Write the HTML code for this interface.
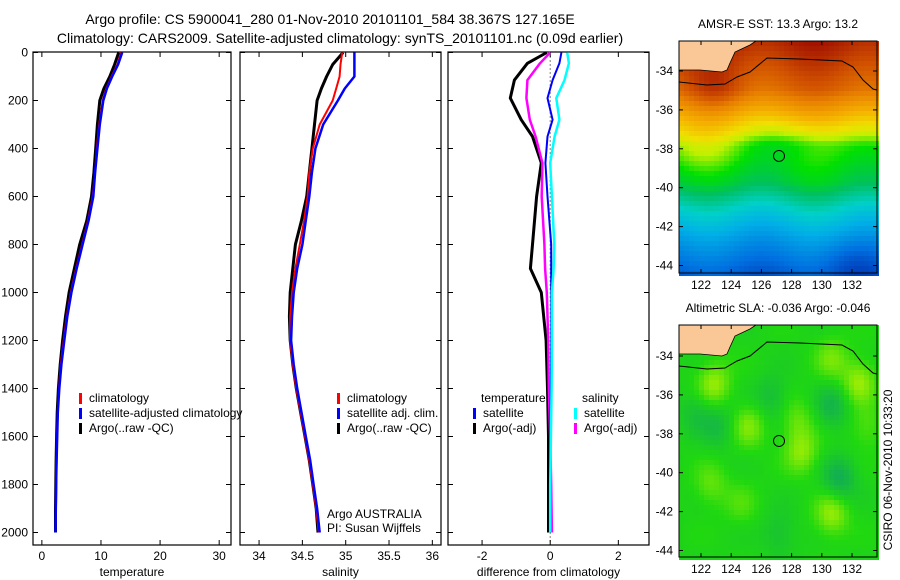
<!DOCTYPE html>
<html><head><meta charset="utf-8"><style>
html,body{margin:0;padding:0;background:#fff;}
svg{display:block;font-family:"Liberation Sans",sans-serif;}
</style></head><body>
<svg id="fig" width="900" height="580" viewBox="0 0 900 580" xmlns="http://www.w3.org/2000/svg">
<text x="330" y="24" font-size="14" text-anchor="middle">Argo profile: CS 5900041_280 01-Nov-2010 20101101_584 38.367S 127.165E</text>
<text x="340" y="43" font-size="14" text-anchor="middle">Climatology: CARS2009. Satellite-adjusted climatology: synTS_20101101.nc (0.09d earlier)</text>
<g id="plots"></g>
<g id="maps"></g>
<text x="0" y="0" font-size="12" text-anchor="middle" transform="translate(892,470) rotate(-90)">CSIRO 06-Nov-2010 10:33:20</text>
</svg>
<script>
// ---- profile data ----
const depthsTS = [0,50,100,150,200,300,400,500,600,700,800,900,1000,1100,1200,1300,1400,1500,1600,1700,1800,1900,2000];
const tempArgo = [13.0,12.3,11.5,10.5,9.8,9.4,9.1,8.8,8.4,7.6,6.4,5.5,4.6,4.0,3.5,3.1,2.8,2.6,2.5,2.4,2.35,2.3,2.3];
const tempClim = [13.4,12.8,11.8,10.9,10.3,9.7,9.3,9.0,8.6,7.8,6.8,5.8,4.9,4.2,3.7,3.2,2.9,2.7,2.55,2.45,2.4,2.35,2.3];
const tempSat  = [13.6,12.9,11.9,11.0,10.4,9.8,9.4,9.0,8.7,7.9,6.9,5.9,5.0,4.3,3.8,3.3,2.95,2.7,2.6,2.5,2.4,2.35,2.3];
const salArgo  = [34.97,34.85,34.78,34.72,34.67,34.64,34.61,34.58,34.55,34.49,34.42,34.39,34.36,34.35,34.36,34.39,34.43,34.48,34.53,34.58,34.62,34.66,34.68];
const salClim  = [34.96,34.94,34.93,34.89,34.85,34.70,34.62,34.58,34.56,34.52,34.47,34.42,34.38,34.36,34.36,34.39,34.43,34.48,34.53,34.58,34.62,34.66,34.69];
const salSat   = [35.10,35.10,35.10,34.99,34.91,34.74,34.65,34.61,34.58,34.54,34.50,34.44,34.40,34.38,34.37,34.40,34.44,34.49,34.54,34.59,34.63,34.67,34.70];
const depthsDiff = [0,45,115,190,280,350,460,600,800,900,1000,1200,1400,1600,1800,2000];
const diffTempArgo = [-0.1,-0.67,-1.05,-1.17,-0.85,-0.52,-0.26,-0.4,-0.52,-0.58,-0.26,-0.12,-0.08,-0.05,-0.05,-0.05];
const diffTempSat  = [0.33,0.27,0.07,-0.08,0.07,-0.08,-0.14,-0.08,0.03,0.03,0.03,0.03,0.02,0.0,0.0,0.0];
const diffSalArgo  = [0,-0.3,-0.67,-0.7,-0.6,-0.43,-0.23,-0.25,-0.17,-0.15,-0.1,-0.06,-0.04,0.0,0.03,0.05];
const diffSalSat   = [0.5,0.55,0.42,0.18,0.27,0.13,0.0,0.05,0.12,0.1,0.05,0.05,0.04,0.02,0.0,0.0];
const depthTicks = [0,200,400,600,800,1000,1200,1400,1600,1800,2000];
const tempTicks = [0,10,20,30];
const salTicks = [34,34.5,35,35.5,36];
const diffTicks = [-2,0,2];
const latTicks = [-34,-36,-38,-40,-42,-44];
const lonTicks = [122,124,126,128,130,132];

const NS="http://www.w3.org/2000/svg";
function mk(tag, attrs, parent){const e=document.createElementNS(NS,tag);for(const k in attrs)e.setAttribute(k,attrs[k]);parent.appendChild(e);return e;}
const plots=document.getElementById('plots');
const yTop=52, yBot=545;
function yScale(d){return 52.5+d*0.24;}

function panel(name,x0,x1,vmin,vmax,ticks,label,fmt,showY){
  const g=mk('g',{},plots);
  
  
  const xs=v=>x0+(v-vmin)/(vmax-vmin)*(x1-x0);
  const r=mk('rect',{x:x0,y:yTop,width:x1-x0,height:yBot-yTop,fill:'none',stroke:'#000','stroke-width':1.2},g);
  
  
  depthTicks.forEach(d=>{
    const y=yScale(d);
    mk('line',{x1:x0,x2:x0+5,y1:y,y2:y,stroke:'#000'},g);
    mk('line',{x1:x1-5,x2:x1,y1:y,y2:y,stroke:'#000'},g);
    if(showY){const t=mk('text',{x:x0-5,y:y+4,'font-size':12,'text-anchor':'end'},g);t.textContent=d;
      
      }
  });
  ticks.forEach(v=>{
    const x=xs(v);
    mk('line',{x1:x,x2:x,y1:yBot,y2:yBot-5,stroke:'#000'},g);
    mk('line',{x1:x,x2:x,y1:yTop,y2:yTop+5,stroke:'#000'},g);
    const t=mk('text',{x:x,y:560,'font-size':12,'text-anchor':'middle'},g);t.textContent=fmt(v);
    
    
  });
  const t=mk('text',{x:(x0+x1)/2,y:576,'font-size':12,'text-anchor':'middle'},g);t.textContent=label;
  
  
  return {g,xs};
}
function line(p,depths,vals,color,w,name){
  const pts=depths.map((d,i)=>p.xs(vals[i]).toFixed(1)+','+yScale(d).toFixed(1)).join(' ');
  const l=mk('polyline',{points:pts,fill:'none',stroke:color,'stroke-width':w,'stroke-linejoin':'round'},p.g);
  
  
}
function legend(g,x,y,color,text,name,w){
  mk('rect',{x:x,y:y-9,width:w||3,height:11,fill:color},g);
  const t=mk('text',{x:x+(w||3)+7,y:y,'font-size':12},g);t.textContent=text;
  
  
}
// panel 1
const p1=panel('temperature-panel',33,231,-1.5,32,tempTicks,'temperature',v=>v,true);
line(p1,depthsTS,tempArgo,'#000',3,'argo-temperature-line');
line(p1,depthsTS,tempClim,'#f00',2,'climatology-temperature-line');
line(p1,depthsTS,tempSat,'#00f',2.5,'satellite-temperature-line');
legend(p1.g,79,402,'#f00','climatology','legend-climatology');
legend(p1.g,79,417,'#00f','satellite-adjusted climatology','legend-satellite');
legend(p1.g,79,432,'#000','Argo(..raw -QC)','legend-argo');
// panel 2
const p2=panel('salinity-panel',240,441,33.78,36.1,salTicks,'salinity',v=>v,false);
line(p2,depthsTS,salArgo,'#000',3,'argo-salinity-line');
line(p2,depthsTS,salClim,'#f00',2,'climatology-salinity-line');
line(p2,depthsTS,salSat,'#00f',2.5,'satellite-salinity-line');
legend(p2.g,337,402,'#f00','climatology','legend-climatology-sal');
legend(p2.g,337,417,'#00f','satellite adj. clim.','legend-satellite-sal');
legend(p2.g,337,432,'#000','Argo(..raw -QC)','legend-argo-sal');
let t=mk('text',{x:327,y:518,'font-size':12},p2.g);t.textContent='Argo AUSTRALIA';


t=mk('text',{x:327,y:532,'font-size':12},p2.g);t.textContent='PI: Susan Wijffels';


// panel 3
const p3=panel('difference-panel',448,649,-3.0,2.9,diffTicks,'difference from climatology',v=>v,false);
mk('line',{x1:p3.xs(0),x2:p3.xs(0),y1:yScale(0),y2:yScale(2050),stroke:'#000','stroke-dasharray':'1,3'},p3.g);
line(p3,depthsDiff,diffTempArgo,'#000',3,'argo-temp-diff-line');
line(p3,depthsDiff,diffSalArgo,'#f0f',2.5,'argo-sal-diff-line');
line(p3,depthsDiff,diffTempSat,'#00f',2,'satellite-temp-diff-line');
line(p3,depthsDiff,diffSalSat,'#0ff',2.5,'satellite-sal-diff-line');
t=mk('text',{x:481,y:402,'font-size':12},p3.g);t.textContent='temperature';


t=mk('text',{x:582,y:402,'font-size':12},p3.g);t.textContent='salinity';


legend(p3.g,473,417,'#00f','satellite','legend-temp-satellite');
legend(p3.g,473,432,'#000','Argo(-adj)','legend-temp-argo');
legend(p3.g,574,417,'#0ff','satellite','legend-sal-satellite');
legend(p3.g,574,432,'#f0f','Argo(-adj)','legend-sal-argo');

// ---- maps ----
const maps=document.getElementById('maps');
const MX0=679,MX1=877,MW=198,MH=232;
function lonX(l){return 701+(l-122)*15.1;}
function lerpC(stops,v){
  v=Math.max(0,Math.min(1,v));
  for(let i=1;i<stops.length;i++){if(v<=stops[i][0]){const a=stops[i-1],b=stops[i];const f=(v-a[0])/(b[0]-a[0]);
    return 'rgb('+[0,1,2].map(k=>Math.round(a[1][k]+(b[1][k]-a[1][k])*f)).join(',')+')';}}
  return 'rgb('+stops[stops.length-1][1].join(',')+')';
}
function lerpN(stops,v){
  for(let i=1;i<stops.length;i++){if(v<=stops[i][0]){const a=stops[i-1],b=stops[i];return a[1]+(b[1]-a[1])*(v-a[0])/(b[0]-a[0]);}}
  return stops[stops.length-1][1];
}
const jet=[[0,[0,48,176]],[0.12,[0,112,224]],[0.25,[0,176,230]],[0.33,[0,208,200]],[0.42,[0,192,96]],[0.5,[0,224,0]],[0.58,[192,240,0]],[0.64,[240,224,0]],[0.72,[245,176,0]],[0.82,[232,128,0]],[0.9,[208,80,0]],[1,[160,16,0]]];
const sstProfile=[[0,0.97],[0.2,0.86],[0.38,0.63],[0.44,0.53],[0.6,0.45],[0.72,0.32],[0.85,0.2],[1,0.08]];
const greens=[[0,[16,170,90]],[0.5,[32,216,16]],[1,[200,244,0]]];
const blobs=[[122.7,-35.3,1],[132.3,-35.2,1],[125,-37.5,0.8],[128.5,-38.8,0.9],[130.5,-42,1],[122.5,-40.5,0.6],[131,-40.2,-1],[130.5,-36.5,-0.8],[126.5,-36,-0.6],[123,-37.5,-0.6],[127,-43,-0.5],[130.5,-34,0.7],[132.8,-37.5,0.5],[128.2,-37.2,0.6],[124.5,-41.5,0.4],[121.5,-36.8,-0.5]];
function drawMap(name,y0,latY34,title,kind){
  const g=mk('g',{},maps);
  
  
  const latY=l=>latY34+(-34-l)*19.45;
  const cs=5;
  for(let yy=0;yy<MH;yy+=cs){for(let xx=0;xx<MW;xx+=cs){
    let col;
    if(kind==='sst'){
      const yn=yy/MH;
      let v=lerpN(sstProfile,yn)+0.025*Math.sin(xx/17);
      v+=0.05*Math.exp(-Math.pow((xx-20)/40,2))*Math.exp(-Math.pow((yn-0.45)/0.1,2));
      v-=0.04*Math.exp(-Math.pow((xx-110)/40,2))*Math.exp(-Math.pow((yn-0.42)/0.08,2));
      v+=0.06*Math.exp(-Math.pow((xx-35)/25,2))*Math.exp(-Math.pow((yn-0.2)/0.1,2));
      v-=0.05*Math.exp(-Math.pow((xx-170)/30,2))*Math.exp(-Math.pow((yn-0.95)/0.1,2));
      col=lerpC(jet,v);
    } else {
      const lon=122+(MX0+xx-701)/15.1, lat=-34-(y0+yy-latY34)/19.45;
      let v=0.45+0.05*Math.sin(xx/13)*Math.cos(yy/11);
      blobs.forEach(b=>{v+=0.4*b[2]*Math.exp(-(Math.pow((lon-b[0])/1.1,2)+Math.pow((lat-b[1])/1.1,2)));});
      col=lerpC(greens,v);
    }
    mk('rect',{x:MX0+xx,y:y0+yy,width:cs,height:cs,fill:col},g);
  }}
  const dy=y0-41;
  const land=mk('polygon',{points:`679,${41+dy} 756,${41+dy} 750,${45+dy} 735,${52+dy} 730,${63+dy} 727,${70+dy} 722,${72+dy} 700,${70+dy} 679,${70+dy}`,fill:'#f9c896',stroke:'#000','stroke-width':0.8},g);
  
  
  const cont=mk('polyline',{points:`679,${82+dy} 707,${85+dy} 725,${84+dy} 737,${77+dy} 750,${72+dy} 767,${58+dy} 800,${59+dy} 842,${61+dy} 853,${67+dy} 863,${80+dy} 873,${89+dy} 877,${90+dy}`,fill:'none',stroke:'#000','stroke-width':1},g);
  
  
  const c=mk('circle',{cx:lonX(127.165),cy:latY(-38.367),r:5.5,fill:'none',stroke:'#000','stroke-width':1},g);
  
  
  mk('rect',{x:MX0,y:y0,width:MW,height:MH,fill:'none',stroke:'#000','stroke-width':1},g);
  latTicks.forEach(l=>{const y=latY(l);
    mk('line',{x1:MX0,x2:MX0+4,y1:y,y2:y,stroke:'#000'},g);mk('line',{x1:MX1-4,x2:MX1,y1:y,y2:y,stroke:'#000'},g);
    const tt=mk('text',{x:673,y:y+4,'font-size':12,'text-anchor':'end'},g);tt.textContent=l;
    
    });
  lonTicks.forEach(l=>{const x=lonX(l);
    mk('line',{x1:x,x2:x,y1:y0,y2:y0+4,stroke:'#000'},g);mk('line',{x1:x,x2:x,y1:y0+MH-4,y2:y0+MH,stroke:'#000'},g);
    const tt=mk('text',{x:x,y:y0+MH+16,'font-size':12,'text-anchor':'middle'},g);tt.textContent=l;
    
    });
  const tt=mk('text',{x:778,y:y0-13,'font-size':12,'text-anchor':'middle'},g);tt.textContent=title;
  
  
}
drawMap('sst-map',41,71,'AMSR-E SST: 13.3 Argo: 13.2','sst');
drawMap('sla-map',325,356,'Altimetric SLA: -0.036 Argo: -0.046','sla');
</script>
</body></html>
